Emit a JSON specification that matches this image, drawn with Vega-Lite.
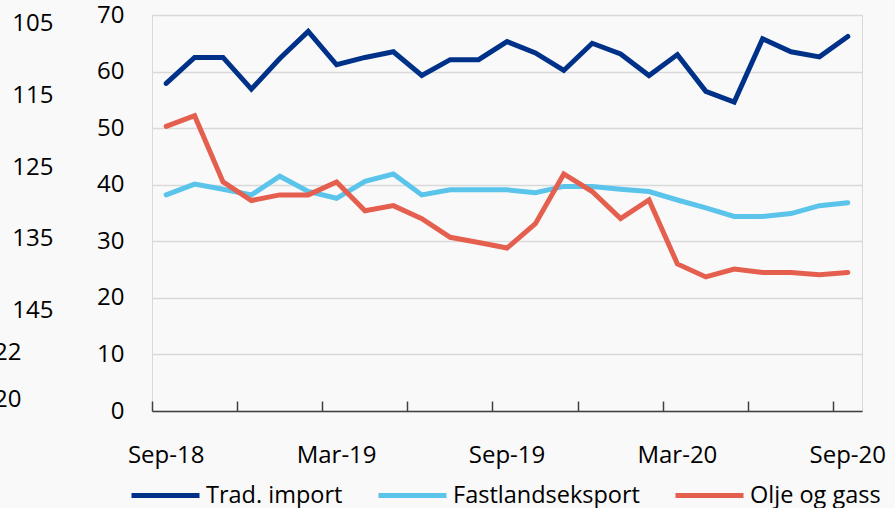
{
  "$schema": "https://vega.github.io/schema/vega-lite/v6.json",
  "width": 710,
  "height": 396,
  "autosize": {"type": "none"},
  "padding": {"left": 152, "top": 15, "right": 33, "bottom": 97},
  "background": "#f9f9f9",
  "config": {
    "font": "Open Sans, sans-serif",
    "view": {"stroke": "#d9d9d9", "strokeWidth": 1},
    "axis": {"labelColor": "#000000", "labelFontSize": 24, "labelFont": "Open Sans, sans-serif"},
    "legend": {"labelColor": "#000000", "labelFontSize": 23.5, "labelFont": "Open Sans, sans-serif", "labelLimit": 0}
  },
  "datasets": {
    "series": [
      {"month": "Sep-18", "series": "Trad. import", "value": 57.9},
      {"month": "Sep-18", "series": "Fastlandseksport", "value": 38.2},
      {"month": "Sep-18", "series": "Olje og gass", "value": 50.3},
      {"month": "Oct-18", "series": "Trad. import", "value": 62.5},
      {"month": "Oct-18", "series": "Fastlandseksport", "value": 40.1},
      {"month": "Oct-18", "series": "Olje og gass", "value": 52.2},
      {"month": "Nov-18", "series": "Trad. import", "value": 62.5},
      {"month": "Nov-18", "series": "Fastlandseksport", "value": 39.2},
      {"month": "Nov-18", "series": "Olje og gass", "value": 40.5},
      {"month": "Dec-18", "series": "Trad. import", "value": 56.9},
      {"month": "Dec-18", "series": "Fastlandseksport", "value": 38.2},
      {"month": "Dec-18", "series": "Olje og gass", "value": 37.2},
      {"month": "Jan-19", "series": "Trad. import", "value": 62.3},
      {"month": "Jan-19", "series": "Fastlandseksport", "value": 41.5},
      {"month": "Jan-19", "series": "Olje og gass", "value": 38.2},
      {"month": "Feb-19", "series": "Trad. import", "value": 67.1},
      {"month": "Feb-19", "series": "Fastlandseksport", "value": 38.8},
      {"month": "Feb-19", "series": "Olje og gass", "value": 38.2},
      {"month": "Mar-19", "series": "Trad. import", "value": 61.2},
      {"month": "Mar-19", "series": "Fastlandseksport", "value": 37.6},
      {"month": "Mar-19", "series": "Olje og gass", "value": 40.5},
      {"month": "Apr-19", "series": "Trad. import", "value": 62.5},
      {"month": "Apr-19", "series": "Fastlandseksport", "value": 40.6},
      {"month": "Apr-19", "series": "Olje og gass", "value": 35.4},
      {"month": "May-19", "series": "Trad. import", "value": 63.5},
      {"month": "May-19", "series": "Fastlandseksport", "value": 41.9},
      {"month": "May-19", "series": "Olje og gass", "value": 36.3},
      {"month": "Jun-19", "series": "Trad. import", "value": 59.3},
      {"month": "Jun-19", "series": "Fastlandseksport", "value": 38.2},
      {"month": "Jun-19", "series": "Olje og gass", "value": 34.0},
      {"month": "Jul-19", "series": "Trad. import", "value": 62.1},
      {"month": "Jul-19", "series": "Fastlandseksport", "value": 39.1},
      {"month": "Jul-19", "series": "Olje og gass", "value": 30.7},
      {"month": "Aug-19", "series": "Trad. import", "value": 62.1},
      {"month": "Aug-19", "series": "Fastlandseksport", "value": 39.1},
      {"month": "Aug-19", "series": "Olje og gass", "value": 29.8},
      {"month": "Sep-19", "series": "Trad. import", "value": 65.3},
      {"month": "Sep-19", "series": "Fastlandseksport", "value": 39.1},
      {"month": "Sep-19", "series": "Olje og gass", "value": 28.8},
      {"month": "Oct-19", "series": "Trad. import", "value": 63.3},
      {"month": "Oct-19", "series": "Fastlandseksport", "value": 38.6},
      {"month": "Oct-19", "series": "Olje og gass", "value": 33.1},
      {"month": "Nov-19", "series": "Trad. import", "value": 60.2},
      {"month": "Nov-19", "series": "Fastlandseksport", "value": 39.7},
      {"month": "Nov-19", "series": "Olje og gass", "value": 41.9},
      {"month": "Dec-19", "series": "Trad. import", "value": 65.0},
      {"month": "Dec-19", "series": "Fastlandseksport", "value": 39.7},
      {"month": "Dec-19", "series": "Olje og gass", "value": 38.8},
      {"month": "Jan-20", "series": "Trad. import", "value": 63.1},
      {"month": "Jan-20", "series": "Fastlandseksport", "value": 39.2},
      {"month": "Jan-20", "series": "Olje og gass", "value": 34.0},
      {"month": "Feb-20", "series": "Trad. import", "value": 59.3},
      {"month": "Feb-20", "series": "Fastlandseksport", "value": 38.8},
      {"month": "Feb-20", "series": "Olje og gass", "value": 37.3},
      {"month": "Mar-20", "series": "Trad. import", "value": 63.0},
      {"month": "Mar-20", "series": "Fastlandseksport", "value": 37.3},
      {"month": "Mar-20", "series": "Olje og gass", "value": 26.0},
      {"month": "Apr-20", "series": "Trad. import", "value": 56.5},
      {"month": "Apr-20", "series": "Fastlandseksport", "value": 35.9},
      {"month": "Apr-20", "series": "Olje og gass", "value": 23.7},
      {"month": "May-20", "series": "Trad. import", "value": 54.6},
      {"month": "May-20", "series": "Fastlandseksport", "value": 34.4},
      {"month": "May-20", "series": "Olje og gass", "value": 25.1},
      {"month": "Jun-20", "series": "Trad. import", "value": 65.8},
      {"month": "Jun-20", "series": "Fastlandseksport", "value": 34.4},
      {"month": "Jun-20", "series": "Olje og gass", "value": 24.5},
      {"month": "Jul-20", "series": "Trad. import", "value": 63.5},
      {"month": "Jul-20", "series": "Fastlandseksport", "value": 34.9},
      {"month": "Jul-20", "series": "Olje og gass", "value": 24.5},
      {"month": "Aug-20", "series": "Trad. import", "value": 62.6},
      {"month": "Aug-20", "series": "Fastlandseksport", "value": 36.3},
      {"month": "Aug-20", "series": "Olje og gass", "value": 24.1},
      {"month": "Sep-20", "series": "Trad. import", "value": 66.2},
      {"month": "Sep-20", "series": "Fastlandseksport", "value": 36.8},
      {"month": "Sep-20", "series": "Olje og gass", "value": 24.5}
    ],
    "ghostA": [{"g": 105}, {"g": 115}, {"g": 125}, {"g": 135}, {"g": 145}],
    "ghostB": [{"g": 20}, {"g": 22}]
  },
  "layer": [
    {
      "data": {"name": "series"},
      "mark": {"type": "line", "strokeWidth": 5, "strokeCap": "round"},
      "encoding": {
        "x": {
          "field": "month",
          "type": "ordinal",
          "sort": null,
          "bandPosition": 0.5,
          "scale": {"type": "band", "paddingInner": 0, "paddingOuter": 0},
          "axis": {
            "title": null,
            "bandPosition": 0,
            "values": ["Sep-18", "Dec-18", "Mar-19", "Jun-19", "Sep-19", "Dec-19", "Mar-20", "Jun-20", "Sep-20"],
            "labelExpr": "slice(datum.label,0,3) == 'Sep' || slice(datum.label,0,3) == 'Mar' ? datum.label : ''",
            "labelAngle": 0,
            "labelOffset": 0,
            "labelOverlap": false,
            "labelBound": false,
            "labelFlush": false,
            "labelPadding": 42,
            "domainColor": "#404040",
            "domainWidth": 1.5,
            "tickColor": "#404040",
            "tickWidth": 1.5,
            "tickSize": -10,
            "grid": false
          }
        },
        "y": {
          "field": "value",
          "type": "quantitative",
          "scale": {"domain": [0, 70], "nice": false, "zero": true},
          "axis": {
            "title": null,
            "values": [0, 10, 20, 30, 40, 50, 60, 70],
            "domain": false,
            "ticks": false,
            "labelPadding": 28,
            "labelFlush": false,
            "grid": true,
            "gridColor": "#d9d9d9",
            "gridWidth": 1.5
          }
        },
        "color": {
          "field": "series",
          "type": "nominal",
          "scale": {
            "domain": ["Trad. import", "Fastlandseksport", "Olje og gass"],
            "range": ["#003189", "#5bc4ea", "#e55f4f"]
          },
          "legend": {
            "title": null,
            "orient": "none",
            "direction": "horizontal",
            "legendX": -23,
            "legendY": 444,
            "padding": 0,
            "symbolType": "stroke",
            "symbolSize": 4624,
            "symbolStrokeWidth": 5,
            "labelOffset": 4,
            "columnPadding": 25
          }
        }
      }
    },
    {
      "data": {"name": "ghostA"},
      "mark": {"type": "point", "opacity": 0},
      "encoding": {
        "y": {
          "field": "g",
          "type": "quantitative",
          "scale": {"domain": [103.8, 159], "reverse": true, "nice": false, "zero": false},
          "axis": {
            "orient": "left",
            "title": null,
            "values": [105, 115, 125, 135, 145],
            "offset": 71,
            "labelPadding": 28,
            "domain": false,
            "ticks": false,
            "grid": false,
            "labelFlush": false
          }
        }
      }
    },
    {
      "data": {"name": "ghostB"},
      "mark": {"type": "point", "opacity": 0},
      "encoding": {
        "y": {
          "field": "g",
          "type": "quantitative",
          "scale": {"domain": [19.54, 36.08], "nice": false, "zero": false},
          "axis": {
            "orient": "left",
            "title": null,
            "values": [20, 22],
            "offset": 103,
            "labelPadding": 28,
            "domain": false,
            "ticks": false,
            "grid": false,
            "labelFlush": false
          }
        }
      }
    }
  ],
  "resolve": {"scale": {"y": "independent"}}
}
